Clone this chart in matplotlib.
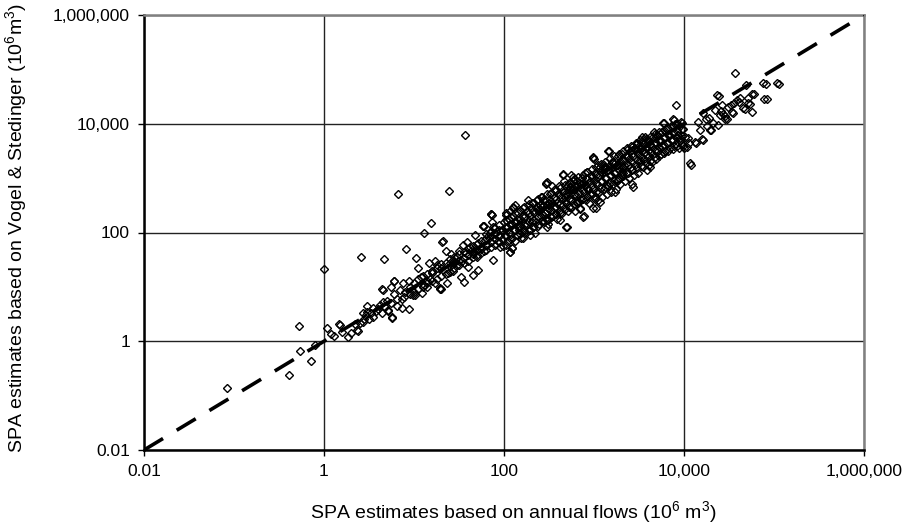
import matplotlib
matplotlib.use('Agg')
import matplotlib.pyplot as plt
from matplotlib.ticker import FixedLocator, FixedFormatter, NullLocator

plt.rcParams['font.family'] = ['Liberation Sans', 'DejaVu Sans']
plt.rcParams['mathtext.fontset'] = 'custom'
plt.rcParams['mathtext.rm'] = 'Liberation Sans'
plt.rcParams['mathtext.it'] = 'Liberation Sans:italic'
plt.rcParams['lines.scale_dashes'] = False

# ---------------- data (10^6 m^3) ----------------
# sparse low-end points and outliers
low_x = [0.084, 0.53, 0.54, 0.72, 0.41, 0.8, 1.0, 1.08, 1.47, 1.5, 1.85, 2.0, 2.3, 2.4,
         2.7, 2.7, 3.0, 2.6, 2.5, 2.9, 1.3, 1.2, 1.6, 2.2, 3.5, 2.8, 6.5, 7.8, 9.0,
         5.5, 4.8]
low_y = [0.14, 1.9, 0.66, 0.43, 0.24, 0.85, 21, 1.75, 2.07, 2.0, 1.2, 1.4, 1.6, 1.55,
         2.25, 3.3, 4.4, 35, 2.2, 3.0, 1.25, 1.35, 1.5, 2.1, 2.8, 2.6, 4.5, 6.5, 7.5,
         5.0, 4.2]

# x between 3 and 10
mid1_x = [4.6, 4.2, 4.4, 5.1, 5.7, 4.4, 5.5, 6.0, 7.0, 7.4, 7.4, 8.8, 8.1, 8.8, 10.3,
          3.5, 3.3, 3.0, 3.2, 4.5, 4.5, 5.1, 5.7, 7.55, 6.0, 9.75, 12.3, 13.9, 15.8,
          14.7, 11, 10.5, 6.6, 24.5, 15.5, 13, 37, 3.8, 4.0, 5.0, 6.5, 6.0, 8.0, 9.0]
mid1_y = [32, 4.6, 3.3, 3.75, 2.8, 9.1, 9.9, 13, 8.7, 6.0, 4.1, 3.9, 50, 13, 7.1,
          4.1, 3.3, 3.5, 2.6, 5.2, 8.7, 3.6, 2.7, 11.7, 12.8, 7.06, 7.7, 13, 17.7,
          27, 22, 34, 508, 575, 149, 97, 6200, 3.6, 4.0, 5.5, 6.0, 7.5, 8.0, 10]

# x between 10 and 100
mid2_x = [19.5, 19.5, 20, 23, 36, 33, 40, 45, 51, 22.7, 20.5, 21, 17, 18, 20, 25, 28,
          30, 26, 32, 35, 39, 48, 58, 72, 74, 74, 60, 75, 90, 117, 123, 75, 97.5, 85,
          65, 55, 45, 42, 50, 60, 68, 80, 88, 95, 70, 62, 52, 44, 38, 34, 30, 27, 24,
          15, 17, 12, 13, 16, 14]
mid2_y = [9.1, 9.5, 9.0, 11.7, 12.4, 15, 23, 16.6, 20.4, 45, 66, 70, 30, 25, 22, 28, 30,
          35, 40, 45, 59, 66, 89, 131, 218, 209, 155, 132, 31, 54, 43, 51, 126, 110, 70,
          60, 50, 40, 55, 35, 45, 80, 95, 85, 75, 100, 72, 65, 48, 42, 30, 25, 20, 18,
          14, 12, 15, 11, 20, 10]

mid3_x = [10, 10, 11.2, 11.2, 12.6, 12.6, 14.1, 14.1, 15.8, 15.8, 17.8, 17.8, 20, 20,
          22.4, 22.4, 25, 25, 25, 28, 28, 28, 31.6, 31.6, 31.6, 35.5, 35.5, 35.5,
          40, 40, 40, 44.7, 44.7, 44.7, 50, 50, 50, 56, 56, 56, 63, 63, 63, 63,
          71, 71, 71, 71, 79, 79, 79, 79, 89, 89, 89, 89]
mid3_y = [8, 12, 9, 14, 10, 16, 12, 17, 13, 20, 14, 22, 16, 26, 17, 28, 19, 32, 24,
          22, 36, 27, 25, 40, 30, 28, 44, 34, 30, 50, 38, 35, 56, 44, 38, 62, 48,
          42, 70, 54, 48, 80, 60, 95, 55, 88, 68, 105, 60, 98, 75, 120, 68, 110, 85, 135]

# dense core, x between 100 and 10,000
core_x = [98, 103, 96, 101, 105, 110, 115, 108, 113, 117, 124, 129, 122, 127, 131,
          139, 144, 137, 142, 146, 155, 161, 153, 159, 163, 175, 181, 173, 179, 184,
          196, 203, 194, 201, 206, 220, 227, 218, 225, 231, 246, 255, 244, 252, 259,
          277, 286, 274, 283, 290, 310, 321, 307, 318, 326, 348, 360, 345, 356, 366,
          390, 404, 386, 400, 410, 438, 453, 433, 449, 460, 491, 508, 486, 503, 516,
          551, 570, 545, 564, 579, 556, 618, 640, 612, 633, 650, 694, 718, 687, 710, 729,
          778, 805, 770, 797, 818, 785, 873, 904, 864, 894, 918,
          980, 1015, 970, 1003, 1030, 990, 1100, 1138, 1088, 1126, 1156,
          1234, 1277, 1221, 1263, 1297, 1385, 1433, 1370, 1417, 1455,
          1553, 1608, 1537, 1590, 1633, 1742, 1804, 1725, 1784, 1831,
          1955, 2024, 1935, 2001, 2055, 2194, 2271, 2171, 2245, 2306,
          2462, 2548, 2436, 2520, 2587, 2762, 2859, 2733, 2827, 2903,
          3099, 3208, 3067, 3172, 3257, 3477, 3599, 3441, 3559, 3654,
          3901, 4038, 3861, 3993, 4378, 4531, 4332, 4481, 4601,
          4912, 5084, 4861, 5028, 5511, 5704, 5454, 5641, 6184, 6400, 6120, 6329,
          6937, 7181, 6866, 7101, 7784, 8057, 7704, 7968, 8735, 9040, 8644, 8940,
          9800, 10140, 9700]
core_y = [56, 89, 112, 158, 224, 71, 100, 126, 178, 251, 79, 112, 141, 200, 316,
          89, 126, 158, 224, 112, 79, 112, 158, 200, 282, 100, 141, 200, 251, 398,
          112, 158, 200, 282, 355, 100, 158, 224, 282, 398, 141, 200, 251, 316, 447,
          158, 224, 316, 398, 794, 141, 200, 282, 355, 501, 200, 282, 355, 447, 631,
          178, 251, 355, 501, 708, 224, 316, 447, 562, 891, 126, 251, 355, 501, 708,
          282, 398, 501, 631, 891, 1120, 251, 355, 501, 708, 891, 282, 398, 562, 794, 1000,
          200, 398, 562, 708, 1000, 1260, 355, 501, 631, 891, 1120,
          282, 447, 631, 891, 1260, 2240, 398, 562, 794, 1120, 1585,
          447, 631, 891, 1260, 1780, 501, 708, 1000, 1410, 3160,
          562, 794, 1120, 1585, 2000, 631, 891, 1260, 1780, 2510,
          794, 1120, 1585, 2000, 2820, 891, 1260, 1780, 2510, 3550,
          1000, 1585, 2240, 3160, 3980, 1120, 1780, 2510, 3550, 4470,
          1260, 2000, 2820, 3980, 5010, 1585, 2240, 3160, 4470, 5620,
          1410, 2510, 3550, 5010, 2000, 2820, 3980, 5620, 7080,
          2240, 3160, 4470, 6310, 2820, 3980, 5010, 7080, 3160, 4470, 5620, 7940,
          3550, 5010, 6310, 8910, 3980, 5620, 7080, 10000, 3550, 5010, 6310, 8910,
          3980, 5620, 7940]

core2_x = [106, 106, 106, 106, 119, 119, 119, 119, 133, 133, 133, 133, 150, 150, 150, 150,
           168, 168, 168, 168, 188, 188, 188, 188, 211, 211, 211, 211, 237, 237, 237, 237,
           266, 266, 266, 266, 299, 299, 299, 299, 335, 335, 335, 335, 376, 376, 376, 376,
           422, 422, 422, 422, 473, 473, 473, 473, 531, 531, 531, 531, 596, 596, 596, 596,
           668, 668, 668, 668, 750, 750, 750, 750, 841, 841, 841, 841, 944, 944, 944, 944,
           1059, 1059, 1059, 1059, 1189, 1189, 1189, 1189, 1334, 1334, 1334, 1334,
           1496, 1496, 1496, 1496, 1679, 1679, 1679, 1679, 1884, 1884, 1884, 1884,
           2113, 2113, 2113, 2113, 2371, 2371, 2371, 2371, 2661, 2661, 2661, 2661,
           2985, 2985, 2985, 2985, 3350, 3350, 3350, 3350, 3758, 3758, 3758, 3758,
           4217, 4217, 4217, 4217, 4732, 4732, 4732, 4732, 5309, 5309, 5309, 5309,
           5957, 5957, 5957, 5957, 6683, 6683, 6683, 6683, 7499, 7499, 7499, 7499,
           8414, 8414, 8414, 8414, 9441, 9441, 9441, 9441]
core2_y = [60, 85, 120, 170, 75, 95, 140, 190, 70, 110, 150, 230, 95, 130, 175, 260,
           105, 140, 190, 300, 110, 160, 230, 330, 125, 170, 250, 350, 130, 200, 260, 420,
           160, 220, 300, 450, 170, 250, 330, 500, 190, 260, 380, 540, 220, 300, 420, 600,
           230, 340, 480, 650, 270, 380, 520, 760, 300, 420, 600, 820, 330, 480, 640, 950,
           380, 520, 750, 1050, 420, 600, 820, 1150, 460, 650, 950, 1300, 520, 750, 1050, 1450,
           560, 820, 1150, 1600, 650, 900, 1300, 1800, 700, 1000, 1450, 2000,
           800, 1150, 1600, 2300, 880, 1250, 1800, 2500, 1000, 1400, 2000, 2800,
           1100, 1550, 2200, 3100, 1250, 1750, 2500, 3400, 1400, 1950, 2750, 3800,
           1550, 2200, 3100, 4200, 1700, 2400, 3400, 4700, 1900, 2700, 3800, 5200,
           2100, 3000, 4200, 5800, 2400, 3300, 4600, 6400, 2600, 3700, 5100, 7000,
           2900, 4100, 5600, 7700, 3200, 4500, 6200, 8400, 3500, 5000, 6800, 9200,
           3900, 5400, 7400, 9800, 4300, 5900, 8000, 10500]

# additional points read in the 100 - 10,000 band
band_x = [293, 341, 453, 585, 835, 975, 1110, 1320, 1580, 1390, 1710, 1850, 2100, 1050,
          700, 500, 300, 271, 369, 419, 476, 647, 755, 1170, 540, 857, 126, 105, 163,
          194, 210, 239, 286, 308, 126, 300, 453, 975, 1026, 58, 72, 117, 123]
band_y = [820, 710, 1170, 1050, 1290, 2440, 1740, 1590, 1960, 740, 550, 910, 1230, 281,
          270, 126, 126, 400, 295, 170, 450, 365, 190, 365, 680, 600, 295, 209, 79,
          89, 126, 295, 229, 170, 281, 843, 1135, 2335, 411, 131, 218, 43, 51]

# upper range, x above ~2,000
high_x = [36900, 48900, 81500, 113700, 107000, 75500, 83500, 77400, 60000, 57000, 51400,
          54000, 51400, 57000, 47600, 45300, 40800, 35000, 34100, 30000, 28500, 28500,
          26400, 24500, 23300, 38800, 23900, 20000, 16300, 12000, 11700, 13600, 11400,
          10000, 11100, 8150, 7740, 6000, 9270, 5700, 4190, 4080, 2710, 2640, 1430,
          15800, 13200, 9000, 10800, 15000, 19400, 25100, 27000, 21000, 16300, 17500,
          14300, 6800, 5850, 7550, 4760, 4400, 3500, 3000, 2640, 2330, 2100, 2050, 3690,
          3250, 5400, 3410, 4190, 31000, 33000, 36000, 42000, 22000, 19000, 18000, 26000]
high_y = [85000, 51000, 53700, 54000, 56000, 56000, 28200, 28200, 35000, 36000, 29500,
          23000, 24000, 16300, 18600, 19500, 25000, 15500, 16300, 12000, 13800, 12000,
          21900, 32600, 34000, 27000, 9300, 7600, 5000, 1740, 1900, 4400, 4400,
          3550, 5500, 21900, 11700, 10200, 10700, 7100, 1580, 1740, 680, 770, 3160,
          5250, 4570, 5430, 3700, 7600, 7600, 14500, 15000, 10300, 15500, 12000,
          10700, 6200, 10300, 12000, 5500, 3720, 5000, 4370, 3240, 2440, 1590, 1290, 3020,
          2140, 4570, 5620, 4100, 20000, 22000, 24000, 30000, 18000, 13000, 9000, 17000]

line_ends = [0.01, 1e6]
tick_vals = [0.01, 1, 100, 1e4, 1e6]
tick_labels = ['0.01', '1', '100', '10,000', '1,000,000']

# ---------------- figure ----------------
fig = plt.figure(figsize=(9.1, 5.3), dpi=100)
ax = fig.add_axes([144 / 910, 1 - 450 / 530, 720 / 910, 435 / 530])
ax.set_xscale('log')
ax.set_yscale('log')
ax.set_xlim(0.01, 1e6)
ax.set_ylim(0.01, 1e6)

for xs, ys in [(low_x, low_y), (mid1_x, mid1_y), (mid2_x, mid2_y), (mid3_x, mid3_y),
               (core_x, core_y), (core2_x, core2_y), (band_x, band_y), (high_x, high_y)]:
    ax.plot(xs, ys, linestyle='none', marker='D', markersize=3.7,
            markerfacecolor='none', markeredgecolor='black', markeredgewidth=1.0,
            zorder=3)

ax.plot(line_ends, line_ends, color='black', linewidth=2.6,
        dashes=(16, 11.5), zorder=4, solid_capstyle='butt', dash_capstyle='butt')

for axis in (ax.xaxis, ax.yaxis):
    axis.set_major_locator(FixedLocator(tick_vals))
    axis.set_major_formatter(FixedFormatter(tick_labels))
    axis.set_minor_locator(NullLocator())

ax.grid(True, which='major', color='#222222', linewidth=1.0)
ax.set_axisbelow(True)
ax.tick_params(axis='both', which='major', direction='out', length=4, width=1,
               labelsize=12.5, colors='black', pad=6)

for side in ('left', 'bottom'):
    ax.spines[side].set_color('black')
    ax.spines[side].set_linewidth(1.8)
for side in ('top', 'right'):
    ax.spines[side].set_color('#808080')
    ax.spines[side].set_linewidth(1.8)

ax.set_xlabel('SPA estimates based on annual flows (10$^{6}$ m$^{3}$)', fontsize=14)
ax.set_ylabel('SPA estimates based on Vogel & Stedinger (10$^{6}$m$^{3}$)', fontsize=14)
ax.xaxis.set_label_coords(0.5125, -0.112)
ax.yaxis.set_label_coords(-0.16, 0.51)

fig.savefig('out.png', dpi=100)
